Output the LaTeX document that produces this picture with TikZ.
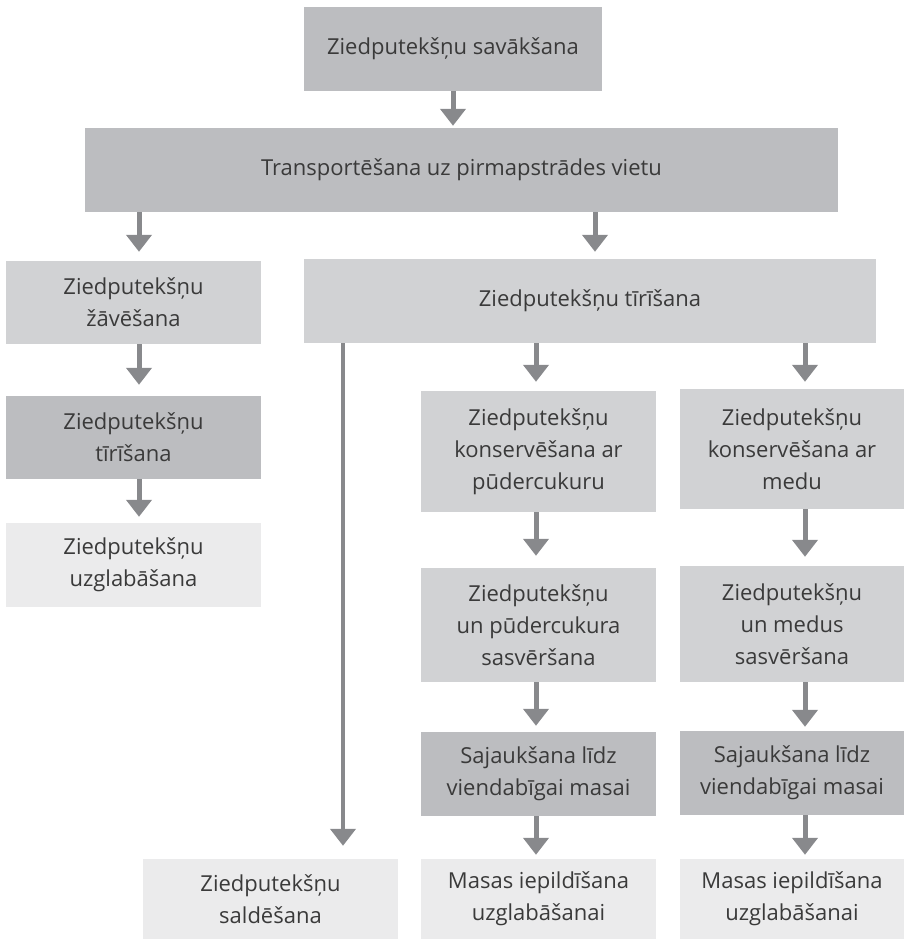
\documentclass[tikz,border=0pt]{standalone}
\usepackage{fontspec}
\setmainfont{Open Sans}
\usetikzlibrary{arrows.meta}
\definecolor{dk}{HTML}{BCBDC0}
\definecolor{md}{HTML}{D1D2D4}
\definecolor{lt}{HTML}{EBEBEC}
\definecolor{arrc}{HTML}{88898C}
\definecolor{txt}{HTML}{3A3A3A}
\tikzset{
  box/.style={draw=none, inner sep=0pt, align=center, text=txt,
    font=\fontsize{22}{32}\selectfont},
  arr/.style={draw=arrc, line width=5pt, -{Triangle[width=25pt,length=17pt]}},
  longarr/.style={draw=arrc, line width=4.5pt, -{Triangle[width=25pt,length=17pt]}}
}
\begin{document}
\begin{tikzpicture}[x=1pt,y=1pt]
\useasboundingbox (0,0) rectangle (904,939);
% boxes
\node[box, fill=dk, minimum width=298pt, minimum height=84pt] (sav) at (453,890) {Ziedputekšņu savākšana};
\node[box, fill=dk, minimum width=753pt, minimum height=84pt] (trans) at (461.5,769) {Transportēšana uz pirmapstrādes vietu};
\node[box, fill=md, minimum width=255pt, minimum height=83pt] (zav) at (133.5,636.5) {Ziedputekšņu\\žāvēšana};
\node[box, fill=md, minimum width=572pt, minimum height=84pt] (tir) at (590,638) {Ziedputekšņu tīrīšana};
\node[box, fill=dk, minimum width=255pt, minimum height=83pt] (tirL) at (133.5,501.5) {Ziedputekšņu\\tīrīšana};
\node[box, fill=lt, minimum width=255pt, minimum height=84pt] (uzgl) at (133.5,374) {Ziedputekšņu\\uzglabāšana};
\node[box, fill=md, minimum width=235pt, minimum height=121pt] (konsP) at (538.5,487.5) {Ziedputekšņu\\konservēšana ar\\pūdercukuru};
\node[box, fill=md, minimum width=224pt, minimum height=120pt] (konsM) at (792,490) {Ziedputekšņu\\konservēšana ar\\medu};
\node[box, fill=md, minimum width=235pt, minimum height=114pt] (sasvP) at (538.5,314) {Ziedputekšņu\\un pūdercukura\\sasvēršana};
\node[box, fill=md, minimum width=224pt, minimum height=116pt] (sasvM) at (792,315) {Ziedputekšņu\\un medus\\sasvēršana};
\node[box, fill=dk, minimum width=235pt, minimum height=84pt] (sajP) at (538.5,165) {Sajaukšana līdz\\viendabīgai masai};
\node[box, fill=dk, minimum width=224pt, minimum height=84pt] (sajM) at (792,166) {Sajaukšana līdz\\viendabīgai masai};
\node[box, fill=lt, minimum width=255pt, minimum height=80pt] (sald) at (270.5,40) {Ziedputekšņu\\saldēšana};
\node[box, fill=lt, minimum width=235pt, minimum height=80pt] (masP) at (538.5,40) {Masas iepildīšana\\uzglabāšanai};
\node[box, fill=lt, minimum width=224pt, minimum height=80pt] (masM) at (792,40) {Masas iepildīšana\\uzglabāšanai};
% arrow columns
\coordinate (xA) at (453,0);
\coordinate (xL) at (139,0);
\coordinate (xT) at (595,0);
\coordinate (xS) at (343,0);
\coordinate (xP) at (536,0);
\coordinate (xM) at (805,0);
% connectors
\draw[arr, shorten >=2pt] (sav.south -| xA) -- (trans.north -| xA);
\draw[arr, shorten >=9pt] (trans.south -| xL) -- (zav.north -| xL);
\draw[arr, shorten >=7pt] (trans.south -| xT) -- (tir.north -| xT);
\draw[arr, shorten >=11pt] (zav.south -| xL) -- (tirL.north -| xL);
\draw[arr, shorten >=6pt] (tirL.south -| xL) -- (uzgl.north -| xL);
\draw[longarr, shorten >=13pt] (tir.south -| xS) -- (sald.north -| xS);
\draw[arr, shorten >=9pt] (tir.south -| xP) -- (konsP.north -| xP);
\draw[arr, shorten >=7pt] (tir.south -| xM) -- (konsM.north -| xM);
\draw[arr, shorten >=12pt] (konsP.south -| xP) -- (sasvP.north -| xP);
\draw[arr, shorten >=9pt] (konsM.south -| xM) -- (sasvM.north -| xM);
\draw[arr, shorten >=6pt] (sasvP.south -| xP) -- (sajP.north -| xP);
\draw[arr, shorten >=4pt] (sasvM.south -| xM) -- (sajM.north -| xM);
\draw[arr, shorten >=4pt] (sajP.south -| xP) -- (masP.north -| xP);
\draw[arr, shorten >=4pt] (sajM.south -| xM) -- (masM.north -| xM);
\end{tikzpicture}
\end{document}
